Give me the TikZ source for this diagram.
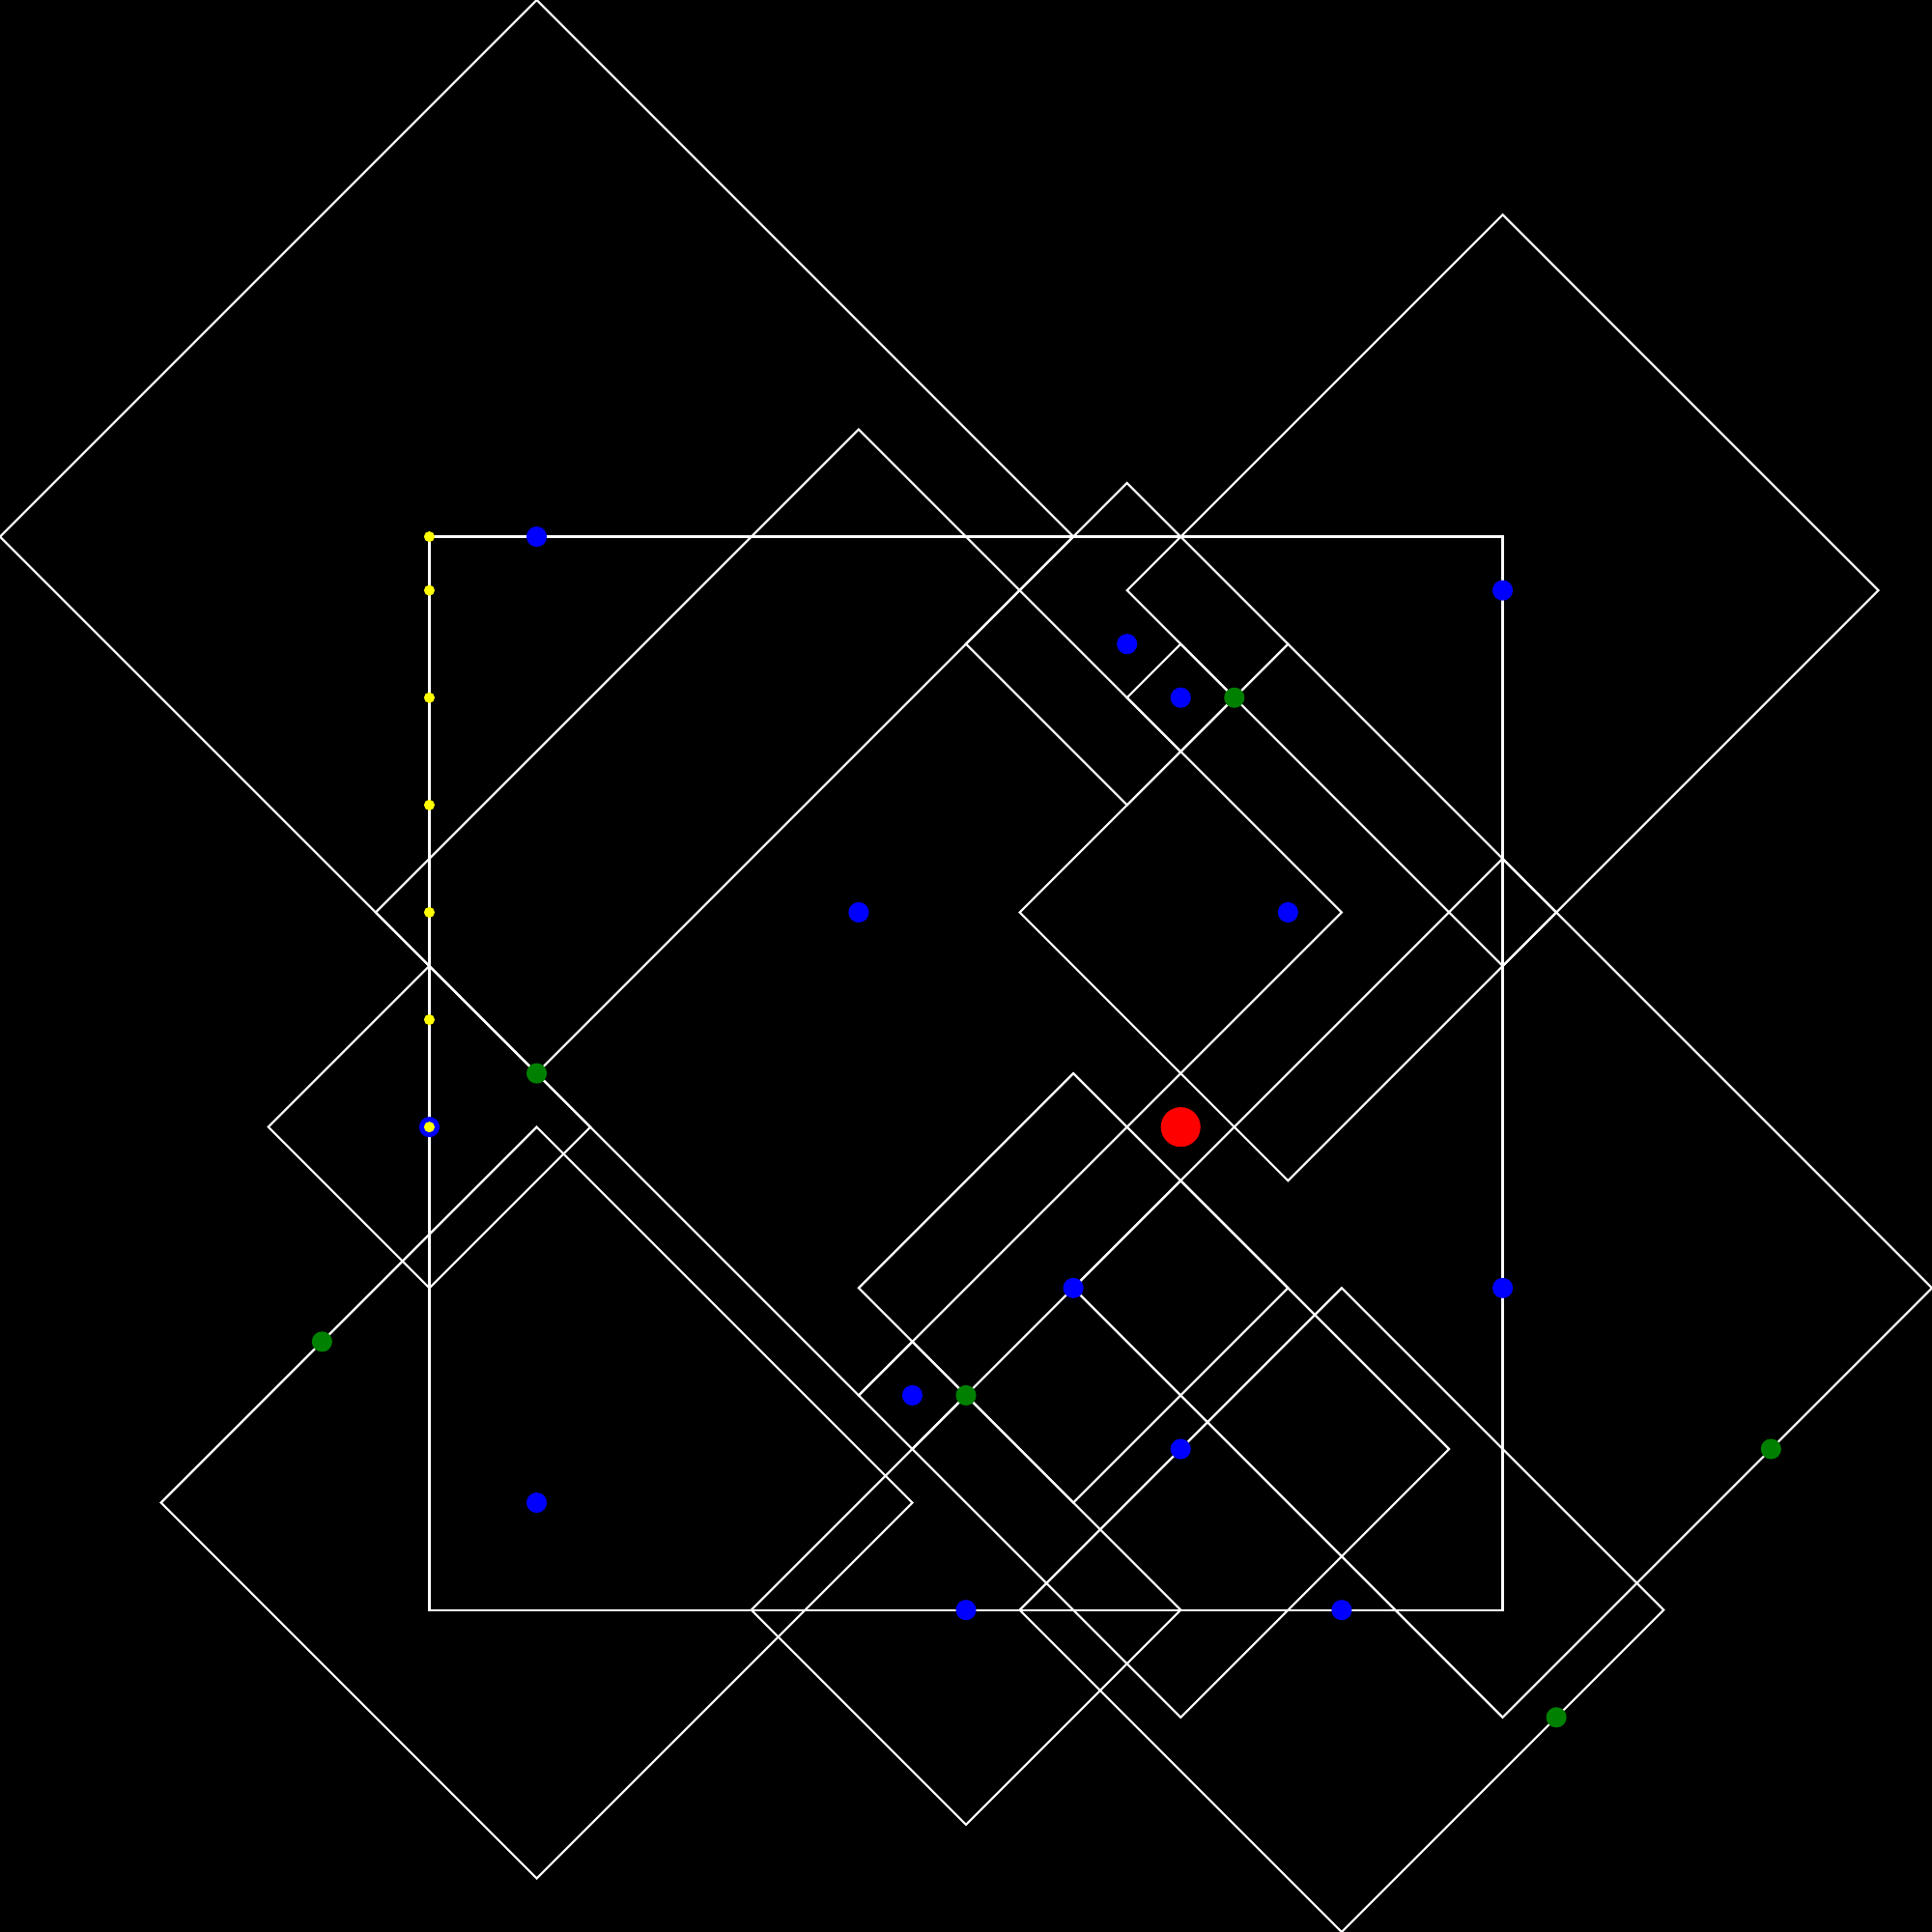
\documentclass[tikz,border=0pt]{standalone}
\definecolor{dotblue}{RGB}{0,0,255}
\definecolor{dotgreen}{RGB}{0,128,0}
\definecolor{dotyellow}{RGB}{255,255,0}
\definecolor{dotred}{RGB}{255,0,0}
\begin{document}
\begin{tikzpicture}[x=0.5cm,y=-0.5cm,
  edge/.style={white,line width=0.55pt},
  bluedot/.style={fill=dotblue},
  greendot/.style={fill=dotgreen},
  yellowdot/.style={fill=dotyellow},
  reddot/.style={fill=dotred}]
\fill[black] (0,0) rectangle (36,36);
\useasboundingbox (0,0) rectangle (36,36);
% axis-aligned square
\draw[edge] (8,10) rectangle (28,30);
% diamonds: centre x / centre y / radius
\foreach \cx/\cy/\r in {10/10/10, 28/11/7, 16/17/9, 24/17/5, 10/28/7, 28/24/8,
  25/30/6, 18/30/4, 20/24/4, 22/13/1, 21/12/3, 22/27/5, 8/21/3, 17/26/1}
  \draw[edge] (\cx-\r,\cy) -- (\cx,\cy-\r) -- (\cx+\r,\cy) -- (\cx,\cy+\r) -- cycle;
% blue centres
\foreach \px/\py in {10/10, 28/11, 21/12, 22/13, 16/17, 24/17, 8/21, 20/24,
  17/26, 22/27, 28/24, 10/28, 18/30, 25/30}
  \fill[bluedot] (\px,\py) circle (0.095cm);
% green points
\foreach \px/\py in {10/20, 23/13, 6/25, 18/26, 33/27, 29/32}
  \fill[greendot] (\px,\py) circle (0.095cm);
% yellow points
\foreach \py in {10,11,13,15,17,19,21}
  \fill[yellowdot] (8,\py) circle (0.05cm);
% red point
\fill[reddot] (22,21) circle (0.185cm);
\end{tikzpicture}
\end{document}
